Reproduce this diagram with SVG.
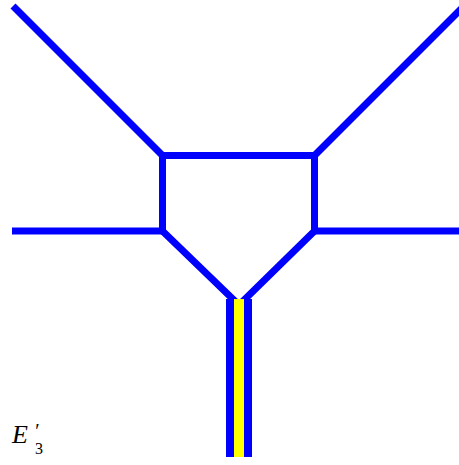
<svg xmlns="http://www.w3.org/2000/svg" width="459" height="465" viewBox="0 0 459 465">
<style>
.e{stroke:#0000ff;stroke-width:7;fill:none;stroke-linecap:butt;stroke-linejoin:miter}
.lbl{font-family:"Liberation Serif",serif;fill:#000}
</style>
<rect width="459" height="465" fill="#fff"/>
<g id="connectors">
<line class="e" x1="13" y1="6" x2="162.5" y2="155.5"/>
<line class="e" x1="466" y1="4" x2="314.5" y2="155.5"/>
<line class="e" x1="162.5" y1="155.5" x2="314.5" y2="155.5"/>
<polyline class="e" points="162.5,152 162.5,231 239,305"/>
<polyline class="e" points="314.5,152 314.5,231 239,305"/>
<line class="e" x1="12" y1="231" x2="162.5" y2="231"/>
<line class="e" x1="314.5" y1="231" x2="460" y2="231"/>
</g>
<g id="stem">
<rect x="226" y="299" width="26" height="158" fill="#0000ff"/>
<rect x="234" y="299" width="10" height="158" fill="#ffff00"/>
</g>
<g id="label">
<text class="lbl" x="12" y="443" font-size="26" font-style="italic">E<tspan x="34" y="438" font-size="20">′</tspan><tspan x="35" y="454" font-size="16" font-style="normal">3</tspan></text>
</g>
</svg>
